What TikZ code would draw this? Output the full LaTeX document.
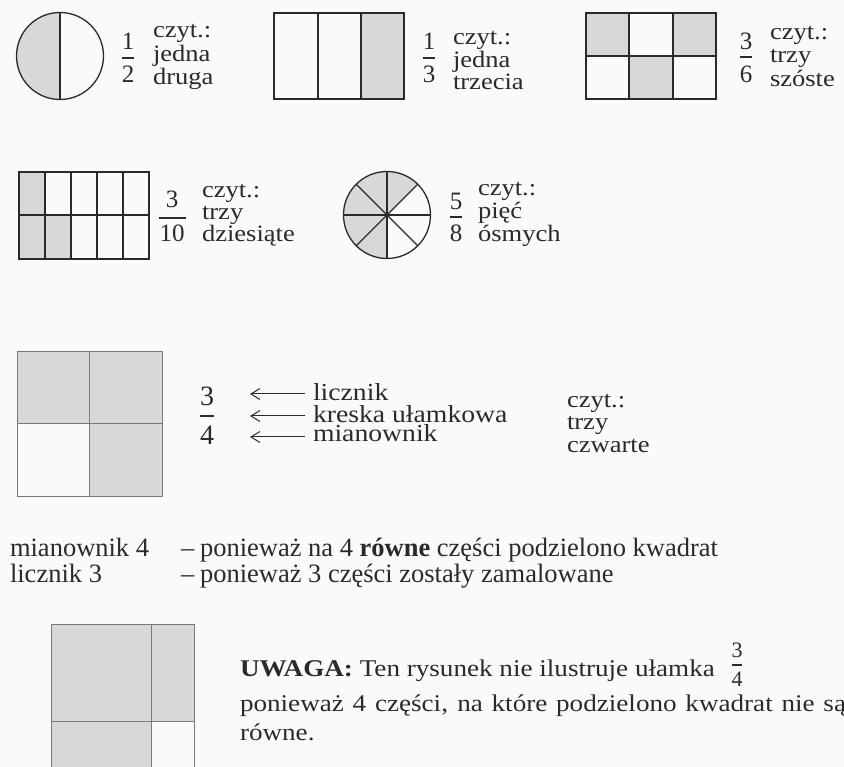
\documentclass[tikz,border=0pt]{standalone}
\usepackage{fontspec}
\setmainfont{Liberation Serif}[FakeStretch=1.13]
\newfontfamily\narrowserif{Liberation Serif}
\usetikzlibrary{arrows.meta}
\definecolor{bgc}{HTML}{FAFAFA}
\definecolor{shadec}{HTML}{D8D8D8}
\definecolor{ink}{HTML}{2A2A2A}
\definecolor{greyline}{HTML}{7A7A7A}
\begin{document}
\begin{tikzpicture}[x=1pt,y=-1pt,
  txt/.style={anchor=base west,inner sep=0pt,outer sep=0pt,text=ink,font=\fontsize{23.5pt}{24pt}\selectfont},
  midtxt/.style={txt,font=\fontsize{24.5pt}{24pt}\selectfont},
  rowfour/.style={txt,font=\narrowserif\fontsize{26.5pt}{26pt}\selectfont},
  rowfive/.style={txt,font=\fontsize{24pt}{26pt}\selectfont},
  dig/.style={anchor=base,inner sep=0pt,outer sep=0pt,text=ink,font=\narrowserif\fontsize{25pt}{25pt}\selectfont},
  bigdig/.style={dig,font=\narrowserif\fontsize{28pt}{28pt}\selectfont},
  smalldig/.style={dig,font=\narrowserif\fontsize{22pt}{22pt}\selectfont},
  fig/.style={draw=ink,line width=1.3pt},
  softfig/.style={draw=greyline,line width=1pt},
  bar/.style={draw=ink,line width=1.1pt},
  pointer/.style={draw=ink,line width=1pt,{Straight Barb[length=9pt,width=11pt]}-}
]
\useasboundingbox (0,0) rectangle (844,767);
\fill[bgc] (0,0) rectangle (844,767);
\clip (0,0) rectangle (844,767);

% ---------- 1/2 circle ----------
\fill[shadec] (60,56) ++(0,-43.5) arc[start angle=-90,end angle=-270,radius=43.5] -- cycle;
\draw[fig] (60,56) circle[radius=43.5];
\draw[fig] (60,12.5) -- (60,99.5);
\node[dig] (n12) at (128,50) {1};
\node[dig] (d12) at (128,83) {2};
\draw[bar] (122,58) -- (134,58);
\node[txt] (t12a) at (153,38) {czyt.:};
\node[txt] (t12b) at (153,62) {jedna};
\node[txt] (t12c) at (153,85) {druga};

% ---------- 1/3 rectangle ----------
\fill[shadec] (361,13) rectangle (404,99);
\draw[fig] (274,13) rectangle (404,99);
\draw[fig] (318,13) -- (318,99);
\draw[fig] (361,13) -- (361,99);
\node[dig] (n13) at (429,50) {1};
\node[dig] (d13) at (429,83) {3};
\draw[bar] (423,58) -- (435,58);
\node[txt] (t13a) at (453,45) {czyt.:};
\node[txt] (t13b) at (453,68) {jedna};
\node[txt] (t13c) at (453,90) {trzecia};

% ---------- 3/6 grid ----------
\fill[shadec] (586,13) rectangle (629,56);
\fill[shadec] (673,13) rectangle (716,56);
\fill[shadec] (629,56) rectangle (673,99);
\draw[fig] (586,13) rectangle (716,99);
\draw[fig] (629,13) -- (629,99);
\draw[fig] (673,13) -- (673,99);
\draw[fig] (586,56) -- (716,56);
\node[dig] (n36) at (746,50) {3};
\node[dig] (d36) at (746,83) {6};
\draw[bar] (740,57) -- (752,57);
\node[txt] (t36a) at (770,40) {czyt.:};
\node[txt] (t36b) at (770,63) {trzy};
\node[txt] (t36c) at (770,87) {szóste};

% ---------- 3/10 grid ----------
\fill[shadec] (19,172) rectangle (45,215);
\fill[shadec] (19,215) rectangle (71,259);
\draw[fig] (19,172) rectangle (149,259);
\foreach \cx in {45,71,97,123} \draw[fig] (\cx,172) -- (\cx,259);
\draw[fig] (19,215) -- (149,215);
\node[dig] (n310) at (172,208) {3};
\node[dig] (d310) at (172,242) {10};
\draw[bar] (159,218) -- (186,218);
\node[txt] (t310a) at (202,198) {czyt.:};
\node[txt] (t310b) at (202,220) {trzy};
\node[txt] (t310c) at (202,242) {dziesiąte};

% ---------- 5/8 circle ----------
\fill[shadec] (387,215) -- ++(90:43.5) arc[start angle=90,end angle=315,radius=43.5] -- cycle;
\draw[fig] (387,215) circle[radius=43.5];
\foreach \a in {0,45,90,135} \draw[fig] (387,215) ++(\a:43.5) -- ++(\a+180:87);
\node[dig] (n58) at (456,210) {5};
\node[dig] (d58) at (456,242) {8};
\draw[bar] (450,217) -- (462,217);
\node[txt] (t58a) at (478,196) {czyt.:};
\node[txt] (t58b) at (478,219) {pięć};
\node[txt] (t58c) at (478,242) {ósmych};

% ---------- 3/4 square ----------
\fill[shadec] (17,352) rectangle (162,424);
\fill[shadec] (89,424) rectangle (162,496);
\draw[softfig] (17,352) rectangle (162,496);
\draw[softfig] (89,352) -- (89,496);
\draw[softfig] (17,424) -- (162,424);
\node[bigdig] (n34) at (207,406) {3};
\node[bigdig] (d34) at (207,444) {4};
\draw[bar] (200,416) -- (214,416);
\coordinate (p1) at (250,394);
\coordinate (p2) at (250,416);
\coordinate (p3) at (250,437);
\coordinate (q1) at (305,394);
\coordinate (q2) at (305,416);
\coordinate (q3) at (305,437);
\draw[pointer] (p1) -- (q1);
\draw[pointer] (p2) -- (q2);
\draw[pointer] (p3) -- (q3);
\node[midtxt] (l1) at (313,401) {licznik};
\node[midtxt] (l2) at (313,422) {kreska ułamkowa};
\node[midtxt] (l3) at (313,442) {mianownik};
\node[txt] (c34a) at (567,408) {czyt.:};
\node[txt] (c34b) at (567,430) {trzy};
\node[txt] (c34c) at (567,453) {czwarte};

% ---------- explanation ----------
\node[rowfour] (m1) at (10,556) {mianownik 4};
\node[rowfour] (m2) at (181,556) {–};
\node[rowfour] (m3) at (200,556) {ponieważ na 4 \textbf{równe} części podzielono kwadrat};
\node[rowfour] (k1) at (10,582) {licznik 3};
\node[rowfour] (k2) at (181,582) {–};
\node[rowfour] (k3) at (200,582) {ponieważ 3 części zostały zamalowane};

% ---------- unequal square ----------
\fill[shadec] (51,624) rectangle (194,721);
\fill[shadec] (51,721) rectangle (151,767);
\draw[softfig] (51,624) rectangle (194,767);
\draw[softfig] (151,624) -- (151,767);
\draw[softfig] (51,721) -- (194,721);
\node[rowfive] (u1) at (240,676) {\textbf{UWAGA:} Ten rysunek nie ilustruje ułamka};
\node[smalldig] (n34b) at (737,657) {3};
\node[smalldig] (d34b) at (737,686) {4};
\draw[bar] (732,665) -- (742,665);
\node[rowfive] (u2) at (240,711) {\hbox to 606pt{ponieważ 4 części, na które podzielono kwadrat nie są}};
\node[rowfive] (u3) at (240,740) {równe.};
\end{tikzpicture}
\end{document}
